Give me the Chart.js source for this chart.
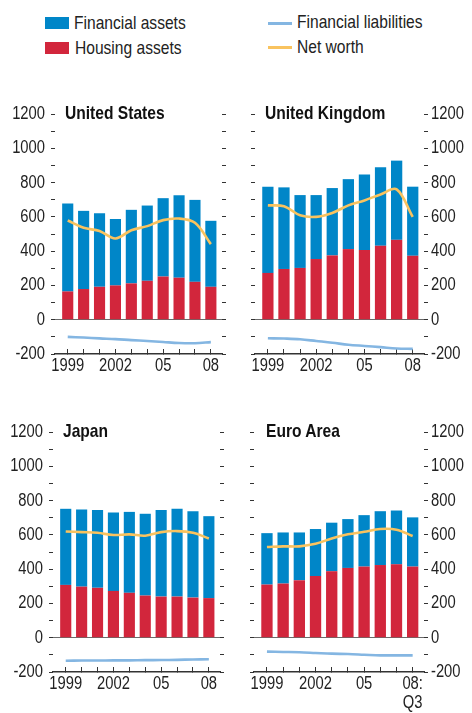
<!DOCTYPE html>
<html>
<head>
<meta charset="utf-8">
<script src="https://cdn.jsdelivr.net/npm/chart.js@4.4.0/dist/chart.umd.min.js"></script>
<style>
  body { margin:0; background:#fff; width:472px; height:713px; position:relative; overflow:hidden;
         font-family:'Liberation Sans',Arial,sans-serif; color:#222; }
  canvas { position:absolute; }
  .ttl { position:absolute; font-weight:bold; font-size:19px; line-height:1; color:#111; white-space:nowrap;
         transform:scaleX(0.82); transform-origin:0 0; }
  .key { position:absolute; font-size:19px; line-height:1; white-space:nowrap;
         transform:scaleX(0.82); transform-origin:0 0; }
  .sw { position:absolute; }
</style>
</head>
<body>
<div class="sw" style="left:45px;top:17px;width:24px;height:12px;background:#0086c8"></div>
<div class="key" style="left:74px;top:13px">Financial assets</div>
<div class="sw" style="left:45px;top:42px;width:24px;height:12px;background:#d2263c"></div>
<div class="key" style="left:75px;top:38px">Housing assets</div>
<div class="sw" style="left:268px;top:22px;width:24px;height:3px;background:#84b6e2"></div>
<div class="key" style="left:297px;top:12px">Financial liabilities</div>
<div class="sw" style="left:268px;top:46px;width:24px;height:3px;background:#f9c35f"></div>
<div class="key" style="left:297px;top:37px">Net worth</div>

<canvas id="us" width="236" height="290" style="left:0;top:90px"></canvas>
<canvas id="uk" width="236" height="290" style="left:236px;top:90px"></canvas>
<canvas id="jp" width="236" height="305" style="left:0;top:408px"></canvas>
<canvas id="ea" width="236" height="305" style="left:236px;top:408px"></canvas>

<div class="ttl" style="left:65px;top:103px">United States</div>
<div class="ttl" style="left:265px;top:103px">United Kingdom</div>
<div class="ttl" style="left:63px;top:421px">Japan</div>
<div class="ttl" style="left:266px;top:421px">Euro Area</div>

<script>
// tick labels
const years = ['1999', '', '', '2002', '', '', '05', '', '', '08'];
const yearsEuro = ['1999', '', '', '2002', '', '', '05', '', '', ['08:', 'Q3']];
const yLabels = [-200, 0, 200, 400, 600, 800, 1000, 1200];

// United States
const usHousing     = [165, 179, 192, 200, 212, 227, 252, 245, 221, 192];
const usFinancial   = [513, 456, 429, 388, 429, 439, 457, 481, 478, 385];
const usLiabilities = [-100, -104, -109, -113, -119, -124, -130, -136, -137, -131];
const usNetWorth    = [579, 536, 518, 474, 522, 546, 581, 590, 565, 441];

// United Kingdom
const ukHousing     = [273, 296, 302, 354, 375, 412, 406, 431, 466, 373];
const ukFinancial   = [503, 476, 425, 373, 393, 408, 441, 459, 462, 403];
const ukLiabilities = [-108, -110, -114, -124, -134, -146, -153, -160, -168, -170];
const ukNetWorth    = [667, 662, 609, 600, 623, 667, 696, 731, 760, 600];

// Japan
const jpHousing     = [308, 298, 291, 273, 262, 246, 240, 240, 234, 231];
const jpFinancial   = [444, 450, 454, 458, 472, 477, 505, 512, 504, 478];
const jpLiabilities = [-134, -133, -133, -132, -132, -131, -130, -129, -127, -126];
const jpNetWorth    = [620, 616, 612, 599, 603, 595, 616, 622, 612, 579];

// Euro area
const eaHousing     = [310, 316, 335, 360, 388, 407, 415, 424, 428, 415];
const eaFinancial   = [300, 298, 279, 274, 283, 285, 300, 314, 314, 287];
const eaLiabilities = [-81, -83, -85, -89, -93, -95, -99, -103, -103, -103];
const eaNetWorth    = [529, 533, 533, 548, 579, 603, 618, 634, 630, 593];

const BLUE = '#0086c8', RED = '#d2263c', LIAB = '#84b6e2', NET = '#f9c35f';
const INK = '#222';

Chart.defaults.font.family = "'Liberation Sans',Arial,sans-serif";
Chart.defaults.color = INK;

// no narrow font installed: squeeze canvas text horizontally around its anchor
const narrowText = {
  id: 'narrowText',
  beforeDraw(chart) {
    const ctx = chart.ctx;
    if (ctx._narrow) return;
    const fill = ctx.fillText.bind(ctx);
    ctx.fillText = function (t, x, y, w) {
      this.save();
      this.translate(x, y);
      this.scale(0.82, 1);
      if (w === undefined) fill(t, 0, 0); else fill(t, 0, 0, w / 0.82);
      this.restore();
    };
    ctx._narrow = true;
  }
};

function panel(id, housing, financial, liabilities, netWorth, xLabels, side, box) {
  const pts = arr => arr.map((v, i) => ({x: i, y: v}));
  const yText = v => yLabels.includes(v) ? String(v) : '';
  const axis = (pos, withLabels, width) => ({
    position: pos,
    min: -200, max: 1200,
    afterFit: s => { s.width = width; },
    border: {display: false},
    grid: {
      drawOnChartArea: pos === 'left',
      color: c => (c.tick && c.tick.value === 0) ? '#6a6a6a' : 'rgba(0,0,0,0)',
      tickColor: '#333', tickLength: 4, lineWidth: 1
    },
    ticks: {
      stepSize: 100, autoSkip: false, font: {size: 18}, color: INK,
      padding: pos === 'left' ? 6 : 3,
      callback: v => withLabels ? yText(v) : ''
    }
  });
  const yL = axis('left', side === 'left', box.left);
  yL.stacked = true;
  const yR = axis('right', side === 'right', box.right);

  new Chart(document.getElementById(id), {
    type: 'bar',
    plugins: [narrowText],
    data: {
      datasets: [
        {type: 'line', label: 'Net worth', data: pts(netWorth), yAxisID: 'yR', borderColor: NET,
         borderWidth: 2.6, pointRadius: 0, tension: 0.35, order: 0},
        {type: 'line', label: 'Financial liabilities', data: pts(liabilities), yAxisID: 'yR', borderColor: LIAB,
         borderWidth: 2.6, pointRadius: 0, tension: 0.35, order: 0},
        {label: 'Housing assets', data: pts(housing), backgroundColor: RED, yAxisID: 'y', order: 1},
        {label: 'Financial assets', data: pts(financial), backgroundColor: BLUE, yAxisID: 'y', order: 1}
      ]
    },
    options: {
      responsive: false, animation: false, events: [],
      layout: {padding: {top: box.top, left: 0, right: 0, bottom: 0}},
      plugins: {legend: {display: false}, tooltip: {enabled: false}},
      datasets: {bar: {categoryPercentage: 1, barPercentage: 0.7}},
      scales: {
        x: {
          type: 'linear', stacked: true, offset: false, min: -0.8, max: 9.7,
          afterBuildTicks: s => { s.ticks = xLabels.map((_, i) => ({value: i})); },
          afterFit: s => { s.height = box.xh; },
          border: {display: true, color: '#333', width: 1.5},
          grid: {offset: false, drawOnChartArea: false, tickLength: -5, tickColor: '#333'},
          ticks: {autoSkip: false, maxRotation: 0, padding: 8, font: {size: 18, lineHeight: 1.05}, color: INK,
                  callback: (v, i) => xLabels[i]}
        },
        y: yL,
        yR: yR
      }
    }
  });
}

panel('us', usHousing, usFinancial, usLiabilities, usNetWorth, years, 'left',  {top: 24, xh: 26, left: 55, right: 14});
panel('uk', ukHousing, ukFinancial, ukLiabilities, ukNetWorth, years, 'right', {top: 24, xh: 26, left: 19, right: 48});
panel('jp', jpHousing, jpFinancial, jpLiabilities, jpNetWorth, years, 'left',  {top: 24, xh: 41, left: 53, right: 16});
panel('ea', eaHousing, eaFinancial, eaLiabilities, eaNetWorth, yearsEuro, 'right', {top: 24, xh: 41, left: 18, right: 48});
</script>
</body>
</html>
